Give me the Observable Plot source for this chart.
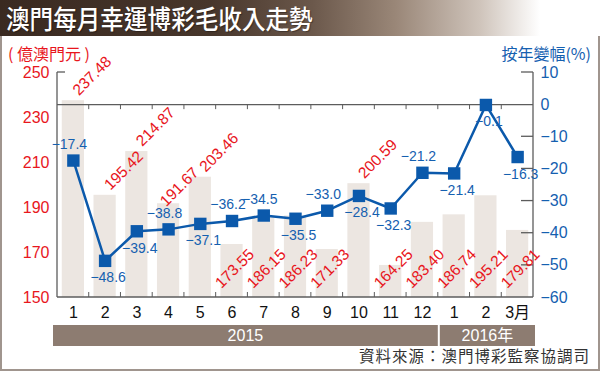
<!DOCTYPE html>
<html><head><meta charset="utf-8">
<script src="https://cdn.jsdelivr.net/npm/d3@7"></script>
<script src="https://cdn.jsdelivr.net/npm/@observablehq/plot@0.6"></script>
<style>
html,body{margin:0;padding:0;background:#fff;}
#wrap{position:relative;width:600px;height:373px;overflow:hidden;font-family:"Liberation Sans",Arial,sans-serif;}
#title{position:absolute;left:0;top:0;width:600px;height:36px;
  background:linear-gradient(to right,#3a2a21 0%,#47362b 35%,#6b584b 52%,#9a8778 66%,#cfc4bb 80%,#ffffff 90%);}
#title span{position:absolute;left:6px;top:0;line-height:36px;color:#fff;
  font-family:"Noto Sans CJK TC","Noto Sans CJK SC",sans-serif;font-weight:500;font-size:23.6px;
  transform:scaleY(1.1);transform-origin:0 50%;text-shadow:1px 1px 1px rgba(0,0,0,0.35);white-space:nowrap;}
#chart{position:absolute;left:0;top:36px;}
#frame{position:absolute;left:0;top:36px;width:600px;height:335px;box-sizing:border-box;
  border:2px solid #a0958e;border-top:none;pointer-events:none;}
</style></head>
<body><div id="wrap"><div id="title"><span>澳門每月幸運博彩毛收入走勢</span></div><div id="chart"></div><div id="frame"></div></div>
<script>
// ---- data ----
const months = ["1","2","3","4","5","6","7","8","9","10","11","12","1","2","3月"];
const revenue = [237.48,195.42,214.87,191.67,203.46,173.55,186.15,186.23,171.33,200.59,164.25,183.40,186.74,195.21,179.81];
const yoy = [-17.4,-48.6,-39.4,-38.8,-37.1,-36.2,-34.5,-35.5,-33.0,-28.4,-32.3,-21.2,-21.4,-0.1,-16.3];
const yoyLabelBelow = [false,true,true,false,true,false,false,true,false,true,true,false,true,true,true];
const leftTicks = [150,170,190,210,230,250];
const rightTicks = [-60,-50,-40,-30,-20,-10,0,10];
const years = [{label:"2015", from:0, to:12},{label:"2016年", from:12, to:15}];
const leftUnit = "( 億澳門元 )";
const rightUnit = "按年變幅(%)";
const source = "資料來源：澳門博彩監察協調司";

// ---- layout ----
const W = 600, H = 337, mT = 36, mB = 76, mL = 57, mR = 67;
const yMin = 150, yMax = 250, pMin = -60, pMax = 10;
const pctToY = p => yMin + (p - pMin) / (pMax - pMin) * (yMax - yMin);
const kx = (W - mL - mR) / months.length, ky = (H - mT - mB) / (yMax - yMin);

const RED = "#e8161d", BLUE = "#0b59ab", BLUE_T = "#1560b0", AX = "#5c5c5c", BAR = "#ece6e1", BAND = "#8d7c71";
const RED_FS = 15.5, S2 = Math.SQRT2;
const labelLen = t => RED_FS * (0.556 * t.replace(".", "").length + 0.278);

const rows = months.map((m, i) => {
  const fb = (revenue[i] - yMin) / (yMax - yMin);
  const fl = (yoy[i] - pMin) / (pMax - pMin);
  return {i, m, rev: revenue[i], pct: yoy[i], pv: pctToY(yoy[i]), below: yoyLabelBelow[i], top: fl < fb - 0.02, shift: 0};
});

// push diagonal value labels back along their direction when they collide with the next one
const tops = rows.filter(d => d.top);
for (let k = tops.length - 2; k >= 0; k--) {
  const a = tops[k], b = tops[k + 1];
  const ax = kx * (a.i + 0.5), ay = -ky * a.rev;
  const bx = kx * (b.i + 0.5) - b.shift / S2, by = -ky * b.rev + b.shift / S2;
  const perp = Math.abs((bx + by) - (ax + ay)) / S2;
  const along = ((bx - by) - (ax - ay)) / S2;
  if (perp < RED_FS * 0.85 && along > 0) a.shift = Math.max(0, labelLen(a.rev.toFixed(2)) + 5 - along);
}

const fmtP = d3.format(".1f");
const fmtT = d3.format("d");

function decor(index, scales, values, dimensions) {
  const {x, y} = scales;
  const g = d3.create("svg:g");
  const line = (x1, y1, x2, y2, w = 1.3) => g.append("line").attr("x1", x1).attr("y1", y1).attr("x2", x2).attr("y2", y2)
    .attr("stroke", AX).attr("stroke-width", w);
  const n = months.length;
  line(x(0), y(yMax), x(0), y(yMin));
  line(x(n), y(yMax), x(n), y(yMin));
  line(x(0), y(yMin), x(n), y(yMin));
  line(x(0), y(yMax), x(0) + 8, y(yMax));
  for (const t of rightTicks) if (t !== 0 && t !== pMin) line(x(n) - 12, y(pctToY(t)), x(n), y(pctToY(t)));
  for (let k = 1; k < n; k++) {
    line(x(k), y(yMin), x(k), y(yMin) - 5, 1);
    line(x(k), y(pctToY(0)), x(k), y(pctToY(0)) + 5, 1);
  }
  const yb = y(yMin) + 28;
  for (const yr of years) {
    const x1 = yr.from === 0 ? x(yr.from) - 4 : x(yr.from) + 2;
    const x2 = yr.to === n ? x(yr.to) + 2 : x(yr.to);
    g.append("rect").attr("x", x1).attr("y", yb).attr("width", x2 - x1).attr("height", 21).attr("fill", BAND);
    g.append("text").attr("x", (x1 + x2) / 2).attr("y", yb + 10.5).attr("dy", "0.35em").attr("text-anchor", "middle")
      .attr("fill", "#fff").attr("font-size", 16).attr("font-family", "'Liberation Sans','Noto Sans CJK TC',sans-serif").text(yr.label);
  }
  g.append("text").attr("x", 8).attr("y", 18).attr("dy", "0.35em").attr("text-anchor", "start").attr("fill", RED).attr("font-size", 16)
    .attr("font-family", "'Noto Sans CJK TC',sans-serif").text(leftUnit);
  g.append("text").attr("x", 591).attr("y", 18).attr("dy", "0.35em").attr("text-anchor", "end").attr("fill", BLUE_T).attr("font-size", 16)
    .attr("font-family", "'Noto Sans CJK TC',sans-serif").text(rightUnit);
  g.append("text").attr("x", 590).attr("y", 321).attr("dy", "0.35em").attr("text-anchor", "end").attr("fill", "#333")
    .attr("font-size", 15.5).attr("letter-spacing", "1px").attr("font-family", "'Noto Sans CJK TC',sans-serif").text(source);
  return g.node();
}

const chart = Plot.plot({
  width: W, height: H,
  marginTop: mT, marginBottom: mB, marginLeft: mL, marginRight: mR,
  x: {domain: [0, months.length], axis: null},
  y: {domain: [yMin, yMax], axis: null},
  style: {fontFamily: "'Liberation Sans',Arial,sans-serif", overflow: "visible", background: "transparent"},
  marks: [
    Plot.rectY(rows, {x1: d => d.i + 0.15, x2: d => d.i + 0.85, y1: yMin, y2: "rev", fill: BAR}),
    Plot.ruleY([pctToY(0)], {x1: 0, x2: months.length, stroke: AX, strokeWidth: 1.3}),
    decor,
    Plot.line(rows, {x: d => d.i + 0.5, y: "pv", stroke: BLUE, strokeWidth: 2.5}),
    Plot.dot(rows, {x: d => d.i + 0.5, y: "pv", symbol: "square", r: 7, fill: BLUE}),
    Plot.text(tops, {x: d => d.i + 0.5 - d.shift / S2 / kx, y: d => d.rev - d.shift / S2 / ky, text: d => d.rev.toFixed(2), rotate: -45,
      textAnchor: "start", dx: 2, dy: -8, fill: RED, fontSize: RED_FS}),
    Plot.text(rows.filter(d => !d.top), {x: d => d.i + 0.5, y: yMin, text: d => d.rev.toFixed(2), rotate: -45,
      textAnchor: "start", dx: -14, dy: -12, fill: RED, fontSize: RED_FS}),
    Plot.text(rows.filter(d => !d.below), {x: d => d.i + 0.5, y: "pv", text: d => fmtP(d.pct), dx: -4, dy: -16, fill: BLUE_T, fontSize: 14}),
    Plot.text(rows.filter(d => d.below), {x: d => d.i + 0.5, y: "pv", text: d => fmtP(d.pct), dx: 3, dy: 17, fill: BLUE_T, fontSize: 14}),
    Plot.text(leftTicks, {x: 0, y: d => d, text: d => fmtT(d), textAnchor: "end", dx: -8, fill: RED, fontSize: 16}),
    Plot.text(rightTicks, {x: months.length, y: d => pctToY(d), text: d => fmtT(d), textAnchor: "start", dx: 7, fill: BLUE_T, fontSize: 16}),
    Plot.text(rows, {x: d => d.i + 0.5, y: yMin, text: "m", dy: 15, fill: "#111", fontSize: 16,
      fontFamily: "'Liberation Sans','Noto Sans CJK TC',sans-serif"})
  ]
});
document.getElementById("chart").appendChild(chart);
</script>
</body></html>
